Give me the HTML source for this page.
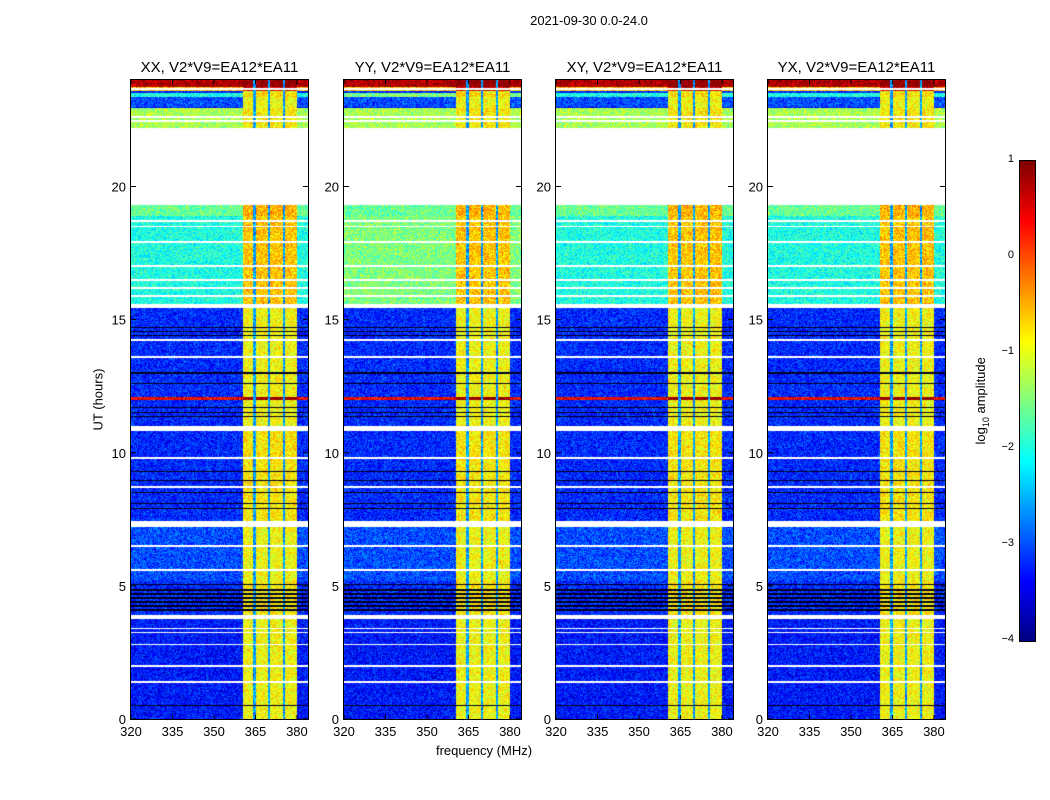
<!DOCTYPE html>
<html><head><meta charset="utf-8">
<style>
body{margin:0;background:#fff;font-family:"Liberation Sans",sans-serif;}
#root{position:relative;width:1050px;height:800px;overflow:hidden;}
.t{position:absolute;white-space:nowrap;color:#000;}
canvas{position:absolute;}
</style></head>
<body><div id="root">
<div class="t" style="left:489px;top:13px;width:200px;text-align:center;font-size:13px;">2021-09-30 0.0-24.0</div>
<div class="t" style="left:384px;top:743px;width:200px;text-align:center;font-size:13px;">frequency (MHz)</div>
<div class="t" style="left:48px;top:392px;width:100px;text-align:center;font-size:13px;transform:rotate(-90deg);">UT (hours)</div>
<canvas id="cb" width="15" height="480" style="left:1019px;top:160px;border:1px solid #000;"></canvas>
<div class="t" style="left:922px;top:392px;width:120px;text-align:center;font-size:13px;transform:rotate(-90deg);">log<sub style="font-size:9px">10</sub> amplitude</div>
</div>
<script>
// data
const panelTitles=["XX, V2*V9=EA12*EA11","YY, V2*V9=EA12*EA11","XY, V2*V9=EA12*EA11","YX, V2*V9=EA12*EA11"];
const panelLeft=[131,344,556,768];
const xTicks=[320,335,350,365,380];
const yTicks=[0,5,10,15,20];
const cbTicks=[1,0,-1,-2,-3,-4];
const bandStart=[23.75,23.6,23.5,23.35,23.0,22.2,19.3,18.9,15.6,15.45,14.8,11.0,10.8,7.45,7.2,5.2,3.9,3.75,0];
const bandEnd  =[24,23.75,23.6,23.5,23.35,22.95,22.2,19.3,18.9,15.6,15.45,14.8,11.0,10.8,7.45,7.2,5.2,3.9,3.75];
const bandLevel=[0.8,-0.6,-3.2,-2.0,-3.0,-1.3,null,-1.6,-2.0,null,-3.2,-3.2,null,-3.2,null,-3.0,-3.2,null,-3.3];
const bandRfi  =[1.0,0.6,-0.9,-0.7,-0.9,-0.8,null,-0.5,-0.6,null,-0.9,-0.9,null,-0.8,null,-0.9,-0.8,null,-0.9];
const panelOffset=[0,0.5,0,0];
const whiteLines=[23.65,22.6,22.45,18.7,18.5,17.9,17.0,16.5,16.2,15.9,14.25,13.6,9.8,8.7,6.5,5.6,3.4,3.25,2.8,2.0,1.4];
const blackLines=[14.7,14.55,14.4,13.0,12.6,11.7,11.5,11.35,9.3,8.95,8.5,8.1,7.9,5.05,4.85,4.7,4.55,4.4,4.25,4.1,0.5];
const redLines=[12.05];
const rfiStart=360.5, rfiEnd=380.2;
const rfiGaps=[364.6,369.9,375.3];
// layout
const T=80,B=719,W=177,H=B-T,F0=320,F1=384;
const yS=h=>B-h/24*H;
const xS=f=>(f-F0)/(F1-F0)*W;
function jet(v){let t=(v+4)/5;t=Math.max(0,Math.min(1,t));
 const c=x=>Math.max(0,Math.min(1,x));
 return [c(1.5-Math.abs(4*t-3)),c(1.5-Math.abs(4*t-2)),c(1.5-Math.abs(4*t-1))].map(x=>Math.round(x*255));}
function hash(a,b){let h=(a*374761393+b*668265263)|0;h=(h^(h>>>13))*1274126177|0;return ((h^(h>>>16))>>>0)/4294967296;}
const root=document.getElementById('root');
panelLeft.forEach((L,p)=>{
 const cv=document.createElement('canvas');cv.width=W;cv.height=H;
 cv.style.left=L+'px';cv.style.top=T+'px';cv.style.border='1px solid #000';cv.style.marginLeft='-1px';cv.style.marginTop='-1px';
 
 
 root.appendChild(cv);
 const ctx=cv.getContext('2d');const img=ctx.createImageData(W,H);
 for(let y=0;y<H;y++){const h=24-(y+0.5)/H*24;
  let bi=-1;for(let i=0;i<bandStart.length;i++){if(h>=bandStart[i]&&h<bandEnd[i]){bi=i;break;}}
  if(bi<0)bi=bandStart.length-1;
  let lev=bandLevel[bi],rl=bandRfi[bi];let special=null;
  if(whiteLines.some(w=>Math.abs(w-h)<0.035))special='w';
  if(blackLines.some(w=>Math.abs(w-h)<0.025))special='k';
  if(redLines.some(w=>Math.abs(w-h)<0.06)){lev=0.4;rl=1.0;}
  if(lev!==null&&lev<-1.8&&lev>-2.2)lev+=panelOffset[p];
  for(let x=0;x<W;x++){const f=F0+(x+0.5)/W*(F1-F0);const k=(y*W+x)*4;
   let col;
   if(lev===null||special==='w')col=[255,255,255];
   else if(special==='k')col=[0,0,30];
   else{let v=lev;
    if(f>=rfiStart&&f<=rfiEnd){v=Math.max(lev,rl);if(rfiGaps.some(g=>Math.abs(g-f)<0.45))v=-2.6;}
    v+=(hash(x,y+p*1000)-0.5)*0.9;col=jet(v);}
   img.data[k]=col[0];img.data[k+1]=col[1];img.data[k+2]=col[2];img.data[k+3]=255;}
 }
 ctx.putImageData(img,0,0);
 const svgNS='http://www.w3.org/2000/svg';
 const s=document.createElementNS(svgNS,'svg');s.setAttribute('width',W+60);s.setAttribute('height',H+30);
 s.style.position='absolute';s.style.left=(L-40)+'px';s.style.top=T+'px';s.style.overflow='visible';
 
 
 root.appendChild(s);
 const ox=40;
 xTicks.forEach(t=>{const x=ox+xS(t);
  [[H,H-4],[0,4]].forEach(([a,b])=>{const l=document.createElementNS(svgNS,'line');l.setAttribute('x1',x);l.setAttribute('x2',x);l.setAttribute('y1',a);l.setAttribute('y2',b);l.setAttribute('stroke','#000');s.appendChild(l);});
  const tx=document.createElementNS(svgNS,'text');tx.setAttribute('x',x);tx.setAttribute('y',H+17);tx.setAttribute('text-anchor','middle');tx.setAttribute('font-size','13');tx.setAttribute('font-family','Liberation Sans, sans-serif');tx.textContent=t;
  
  
  s.appendChild(tx);});
 yTicks.forEach(t=>{const y=yS(t)-T;
  [[ox,ox+5],[ox+W,ox+W-5]].forEach(([a,b])=>{const l=document.createElementNS(svgNS,'line');l.setAttribute('x1',a);l.setAttribute('x2',b);l.setAttribute('y1',y);l.setAttribute('y2',y);l.setAttribute('stroke','#000');s.appendChild(l);});
  const tx=document.createElementNS(svgNS,'text');tx.setAttribute('x',ox-5);tx.setAttribute('y',y+5);tx.setAttribute('text-anchor','end');tx.setAttribute('font-size','13');tx.setAttribute('font-family','Liberation Sans, sans-serif');tx.textContent=t;
  
  
  s.appendChild(tx);});
 const ti=document.createElement('div');ti.className='t';ti.style.left=L+'px';ti.style.width=W+'px';ti.style.textAlign='center';ti.style.top='59px';ti.style.fontSize='15px';ti.textContent=panelTitles[p];
 
 
 root.appendChild(ti);
});
// colorbar
const cb=document.getElementById('cb').getContext('2d');
for(let y=0;y<480;y++){const v=1-y/480*5;const c=jet(v);cb.fillStyle=`rgb(${c})`;cb.fillRect(0,y,15,1);}
cbTicks.forEach(t=>{const y=160+(1-t)/5*480;
 const d=document.createElement('div');d.className='t';d.style.left='1000px';d.style.width='14px';d.style.textAlign='right';d.style.top=(y-7)+'px';d.style.fontSize='11px';d.textContent=t<0?'\u2212'+(-t):t;
 
 
 root.appendChild(d);});
</script>
</body></html>
